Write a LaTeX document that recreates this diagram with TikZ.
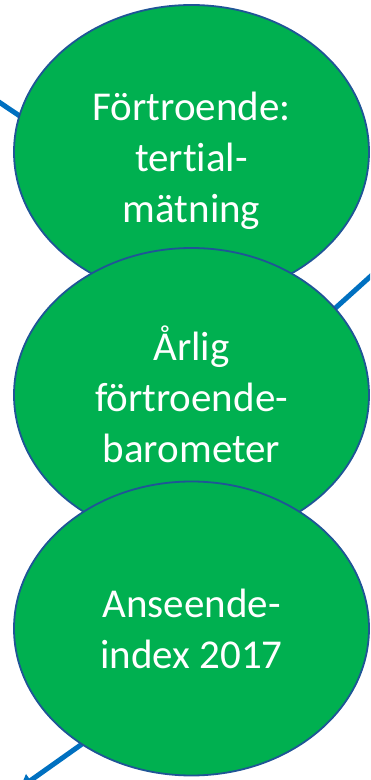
\documentclass[tikz,border=0pt]{standalone}
\usepackage{fontspec}
\setmainfont[Ligatures=NoCommon]{Carlito}
\usetikzlibrary{shapes.geometric,arrows.meta}
\definecolor{okgreen}{HTML}{00B050}
\definecolor{okedge}{HTML}{1F5596}
\definecolor{okline}{HTML}{0070C0}
\tikzset{
  bubble/.style={ellipse,draw=okedge,line width=1.8pt,fill=okgreen,minimum width=355pt,minimum height=294pt,inner sep=0pt},
  bubbletext/.style={text=white,align=center,font=\fontsize{41}{51}\selectfont,inner sep=0pt},
  flow/.style={draw=okline,line width=5pt}
}
\begin{document}
\begin{tikzpicture}[x=1pt,y=1pt]
\useasboundingbox (0,0) rectangle (370,780);
\clip (0,0) rectangle (370,780);
% connector pieces behind the bubbles
\coordinate (a0) at (-10,684);
\coordinate (a1) at (45,647);
\coordinate (b0) at (382,514);
\coordinate (b1) at (310,449);
\coordinate (c0) at (130,70);
\coordinate (c1) at (20,-8);
\draw[flow] (a0) -- (a1);
\draw[flow] (b0) -- (b1);
\draw[flow,-{Triangle[width=15pt,length=13pt]}] (c0) -- (c1);
% bubbles
\node[bubble] (e1) at (191.5,628) {};
\node[bubble] (e2) at (191.5,385) {};
\node[bubble] (e3) at (191.5,151.5) {};
\node[bubbletext,yshift=-9pt] (t1) at (e1.center) {Förtroende:\\tertial-\\mätning};
\node[bubbletext,yshift=1pt] (t2) at (e2.center) {Årlig\\förtroende-\\barometer};
\node[bubbletext] (t3) at (e3.center) {Anseende-\\index 2017};
\end{tikzpicture}
\end{document}
